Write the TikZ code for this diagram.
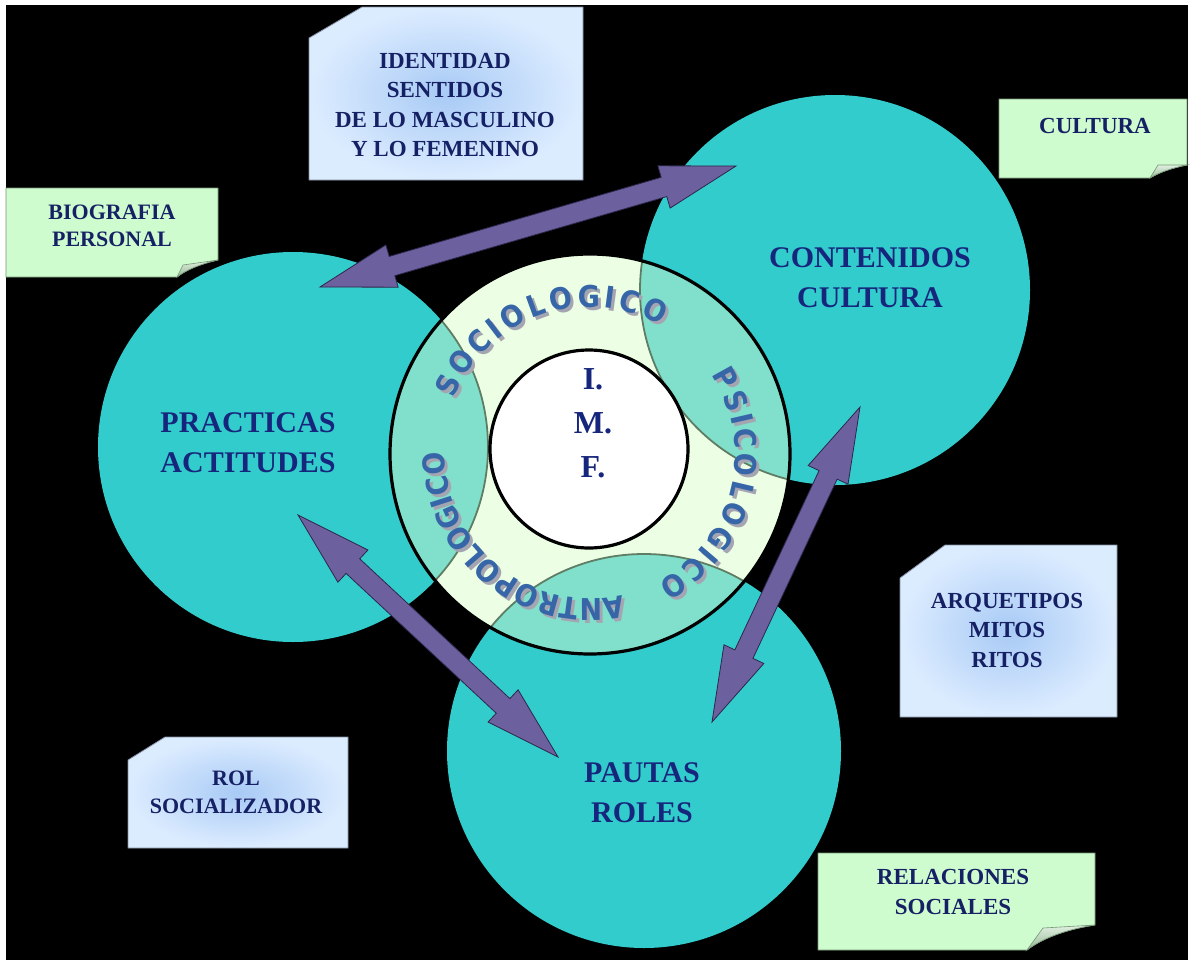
\documentclass[tikz,border=0pt]{standalone}
\usepackage{fontspec}
\setmainfont{Liberation Serif}
\newfontfamily\wafont{DejaVu Sans Condensed}
\usetikzlibrary{decorations.text,calc}
\definecolor{teal1}{RGB}{51,204,204}
\definecolor{ovl}{RGB}{128,224,204}
\definecolor{pale}{RGB}{236,255,228}
\definecolor{ovlline}{RGB}{95,125,100}
\definecolor{arrowfill}{RGB}{108,96,158}
\definecolor{arrowline}{RGB}{45,38,75}
\definecolor{navy}{RGB}{22,38,125}
\definecolor{notenavy}{RGB}{22,32,100}
\definecolor{wablue}{RGB}{55,102,168}
\definecolor{washadow}{RGB}{165,165,178}
\definecolor{notegreen}{RGB}{206,252,206}
\definecolor{greenedge}{RGB}{120,150,120}
\definecolor{noteblueIn}{RGB}{168,202,245}
\definecolor{noteblueOut}{RGB}{220,236,255}
\definecolor{noteedge}{RGB}{130,140,160}
\definecolor{flapLight}{RGB}{225,240,225}
\definecolor{flapDark}{RGB}{150,185,150}
\newcommand{\wastyle}{\wafont\bfseries\fontsize{30}{30}\selectfont}
\newcommand{\wordarc}[4]{%
  \path[decorate, decoration={text along path, text={|\wastyle|#1}, text align=fit to path, text color=washadow}]
    ([shift={(#2:#4)}]593,-457) arc[start angle=#2, end angle=#3, radius=#4];
  \path[decorate, decoration={text along path, text={|\wastyle|#1}, text align=fit to path, text color=wablue}]
    ([shift={(#2:#4)}]590,-454) arc[start angle=#2, end angle=#3, radius=#4];}
\newcommand{\dblfatarrow}[3]{%
  \coordinate (#3a) at ($(#1)!75pt!(#2)$);
  \coordinate (#3b) at ($(#2)!75pt!(#1)$);
  \filldraw[fatarrow] (#1) -- ($(#3a)!22pt!90:(#2)$) -- ($(#3a)!10pt!90:(#2)$)
    -- ($(#3b)!10pt!-90:(#1)$) -- ($(#3b)!22pt!-90:(#1)$) -- (#2)
    -- ($(#3b)!22pt!90:(#1)$) -- ($(#3b)!10pt!90:(#1)$)
    -- ($(#3a)!10pt!-90:(#2)$) -- ($(#3a)!22pt!-90:(#2)$) -- cycle;}
\begin{document}
\begin{tikzpicture}[x=1pt,y=1pt,
  bigcirc/.style={circle, fill=teal1, inner sep=0pt, minimum size=390pt},
  circlabel/.style={font=\fontsize{30}{40}\selectfont\bfseries, text=navy, align=center, inner sep=0pt},
  imflabel/.style={font=\fontsize{32}{44}\selectfont\bfseries, text=navy, align=center, inner sep=0pt},
  notetext/.style={font=\fontsize{23}{29.5}\selectfont\bfseries, text=notenavy, align=center, inner sep=0pt},
  bluenote/.style={inner color=noteblueIn, outer color=noteblueOut, draw=noteedge, line width=0.8pt},
  greennote/.style={fill=notegreen, draw=greenedge, line width=0.8pt},
  flapstyle/.style={top color=flapLight, bottom color=flapDark, draw=greenedge, line width=0.6pt},
  fatarrow/.style={fill=arrowfill, draw=arrowline, line width=0.8pt, line join=miter},
  ovlarc/.style={draw=ovlline, line width=1.8pt},
]
\useasboundingbox (0,0) rectangle (1194,-964);
\fill[white] (0,0) rectangle (1194,-964);
\fill[black] (6,-5) rectangle (1188,-960);

% big circles
\node[bigcirc] (L) at (293,-447) {};
\node[bigcirc] (R) at (835,-290) {};
\node[bigcirc, minimum size=394pt] (B) at (644,-751) {};

% ring
\coordinate (C) at (590,-454);
\fill[pale] (C) circle[radius=200];
\begin{scope}
  \clip (C) circle[radius=200];
  \fill[ovl] (L) circle[radius=195];
  \fill[ovl] (R) circle[radius=195];
  \fill[ovl] (B) circle[radius=197];
  \draw[ovlarc] (L) circle[radius=195];
  \draw[ovlarc] (R) circle[radius=195];
  \draw[ovlarc] (B) circle[radius=197];
\end{scope}
\node[circle, draw=black, line width=3.2pt, minimum size=400pt, inner sep=0pt] (ring) at (C) {};
\node[circle, draw=black, fill=white, line width=3.2pt, minimum size=198pt, inner sep=0pt] (core) at (589,-449) {};

% curved words
\wordarc{SOCIOLOGICO}{158}{61}{147}
\wordarc{PSICOLOGICO}{33}{-62}{145}
\wordarc{ANTROPOLOGICO}{283}{180}{145}

\node[imflabel] (imf) at (593,-423) {I.\\M.\\F.};

% circle labels
\node[circlabel] (lblR) at (870,-278) {CONTENIDOS\\CULTURA};
\node[circlabel] (lblL) at (248,-443) {PRACTICAS\\ACTITUDES};
\node[circlabel] (lblB) at (642,-793) {PAUTAS\\ROLES};

% arrows
\coordinate (a1s) at (320,-287);
\coordinate (a1e) at (736,-166);
\coordinate (a2s) at (298,-515);
\coordinate (a2e) at (558,-757);
\coordinate (a3s) at (860,-407);
\coordinate (a3e) at (712,-722);
\dblfatarrow{a1s}{a1e}{h1}
\dblfatarrow{a2s}{a2e}{h2}
\dblfatarrow{a3s}{a3e}{h3}

% blue notes (cut corner)
\shadedraw[bluenote] (309,-38) -- (362,-7) -- (583,-7) -- (583,-180) -- (309,-180) -- cycle;
\node[notetext] (n1) at (445,-105) {IDENTIDAD\\SENTIDOS\\DE LO MASCULINO\\Y LO FEMENINO};
\shadedraw[bluenote] (900,-578) -- (945,-545) -- (1117,-545) -- (1117,-717) -- (900,-717) -- cycle;
\node[notetext] (n4) at (1007,-630) {ARQUETIPOS\\MITOS\\RITOS};
\shadedraw[bluenote] (128,-760) -- (165,-737) -- (348,-737) -- (348,-848) -- (128,-848) -- cycle;
\node[notetext, font=\fontsize{22}{28}\selectfont\bfseries] (n5) at (236,-792) {ROL\\SOCIALIZADOR};

% green notes (folded corner)
\filldraw[greennote] (6,-188) -- (218,-188) -- (218,-260) .. controls (200,-264) and (186,-270) .. (177,-277) -- (6,-277) -- cycle;
\shadedraw[flapstyle] (177,-277) -- (183,-265) -- (218,-260) .. controls (200,-264) and (186,-270) .. cycle;
\node[notetext, font=\fontsize{22}{27}\selectfont\bfseries] (n2) at (112,-226) {BIOGRAFIA\\PERSONAL};

\filldraw[greennote] (999,-99) -- (1187,-99) -- (1187,-165) .. controls (1172,-168) and (1160,-172) .. (1150,-178) -- (999,-178) -- cycle;
\shadedraw[flapstyle] (1150,-178) -- (1158,-165) -- (1187,-165) .. controls (1172,-168) and (1160,-172) .. cycle;
\node[notetext] (n3) at (1095,-126) {CULTURA};

\filldraw[greennote] (818,-853) -- (1095,-853) -- (1095,-925) .. controls (1062,-930) and (1040,-940) .. (1027,-950) -- (818,-950) -- cycle;
\shadedraw[flapstyle] (1027,-950) -- (1043,-928) -- (1095,-925) .. controls (1062,-930) and (1040,-940) .. cycle;
\node[notetext] (n6) at (953,-892) {RELACIONES\\SOCIALES};
\end{tikzpicture}
\end{document}
